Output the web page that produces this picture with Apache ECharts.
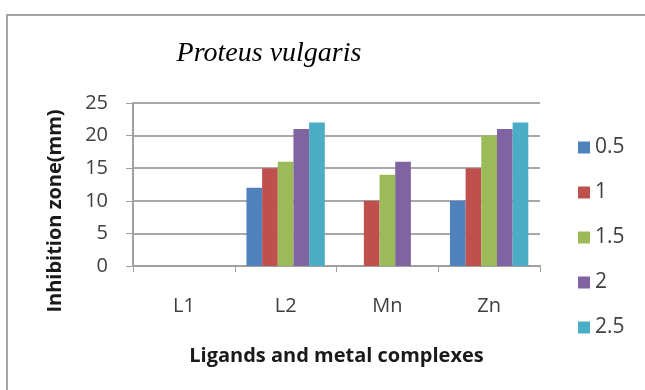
<!DOCTYPE html>
<html>
<head>
<meta charset="utf-8">
<script src="https://cdn.jsdelivr.net/npm/echarts@6/dist/echarts.min.js"></script>
<style>
  html, body { margin: 0; padding: 0; background: #fff; }
  #chart { width: 645px; height: 390px; }
</style>
</head>
<body>
<div id="chart"></div>
<script>
// Inhibition zone (mm) per compound, one series per concentration
const categories = ['L1', 'L2', 'Mn', 'Zn'];
const seriesNames = ['0.5', '1', '1.5', '2', '2.5'];
const values_05 = [0, 12, 0, 10];
const values_1 = [0, 15, 10, 15];
const values_15 = [0, 16, 14, 20];
const values_2 = [0, 21, 16, 21];
const values_25 = [0, 22, 0, 22];
const yTicks = [0, 5, 10, 15, 20, 25];

const colors = ['#4F81BD', '#C0504D', '#9BBB59', '#8064A2', '#4BACC6'];
const allValues = [values_05, values_1, values_15, values_2, values_25];
const labelFont = 'Open Sans';

const chart = echarts.init(document.getElementById('chart'), null, { renderer: 'canvas' });

chart.setOption({
  animation: false,
  backgroundColor: '#fff',
  color: colors,
  title: {
    text: 'Proteus vulgaris',
    left: 264,
    top: 35,
    textAlign: 'center',
    textStyle: {
      fontFamily: 'Liberation Serif',
      fontStyle: 'italic',
      fontWeight: 'normal',
      fontSize: 28,
      color: '#000'
    }
  },
  graphic: [{
    type: 'rect',
    shape: { x: 7, y: 15, width: 660, height: 400 },
    style: { fill: 'none', stroke: '#a6a6a6', lineWidth: 2 },
    silent: true
  }, {
    // vertical axis title, drawn on its own so it can sit lower than the plot centre
    type: 'text',
    x: 55,
    y: 211,
    rotation: Math.PI / 2,
    style: {
      text: 'Inhibition zone(mm)',
      fontFamily: labelFont,
      fontWeight: 'bold',
      fontSize: 20,
      fill: '#1a1a1a',
      textAlign: 'center',
      textVerticalAlign: 'middle'
    },
    silent: true
  }],
  legend: {
    orient: 'vertical',
    left: 573,
    top: 132,
    itemWidth: 12,
    itemHeight: 12,
    itemGap: 24,
    icon: 'rect',
    textStyle: { fontFamily: labelFont, fontSize: 21, color: '#404040' },
    data: seriesNames
  },
  grid: { left: 133, top: 103, width: 407, height: 163, containLabel: false },
  xAxis: {
    type: 'category',
    data: categories,
    name: 'Ligands and metal complexes',
    nameLocation: 'middle',
    nameGap: 80,
    nameTextStyle: { fontFamily: labelFont, fontWeight: 'bold', fontSize: 20, color: '#1a1a1a' },
    axisLine: { lineStyle: { color: '#a0a0a0', width: 2 } },
    axisTick: { show: true, length: 6, lineStyle: { color: '#a0a0a0' } },
    axisLabel: { fontFamily: labelFont, fontSize: 20, color: '#404040', margin: 30 }
  },
  yAxis: {
    type: 'value',
    min: yTicks[0],
    max: yTicks[yTicks.length - 1],
    interval: yTicks[1] - yTicks[0],
    axisLine: { show: true, lineStyle: { color: '#a0a0a0', width: 2 } },
    axisTick: { show: true, length: 7, lineStyle: { color: '#a0a0a0' } },
    axisLabel: { fontFamily: labelFont, fontSize: 20, color: '#404040', margin: 25 },
    splitLine: { lineStyle: { color: '#a8a8a8', width: 2 } }
  },
  series: seriesNames.map((name, i) => ({
    name: name,
    type: 'bar',
    data: allValues[i],
    barGap: '0%',
    barCategoryGap: '23%',
    itemStyle: { color: colors[i] }
  }))
});
</script>
</body>
</html>
